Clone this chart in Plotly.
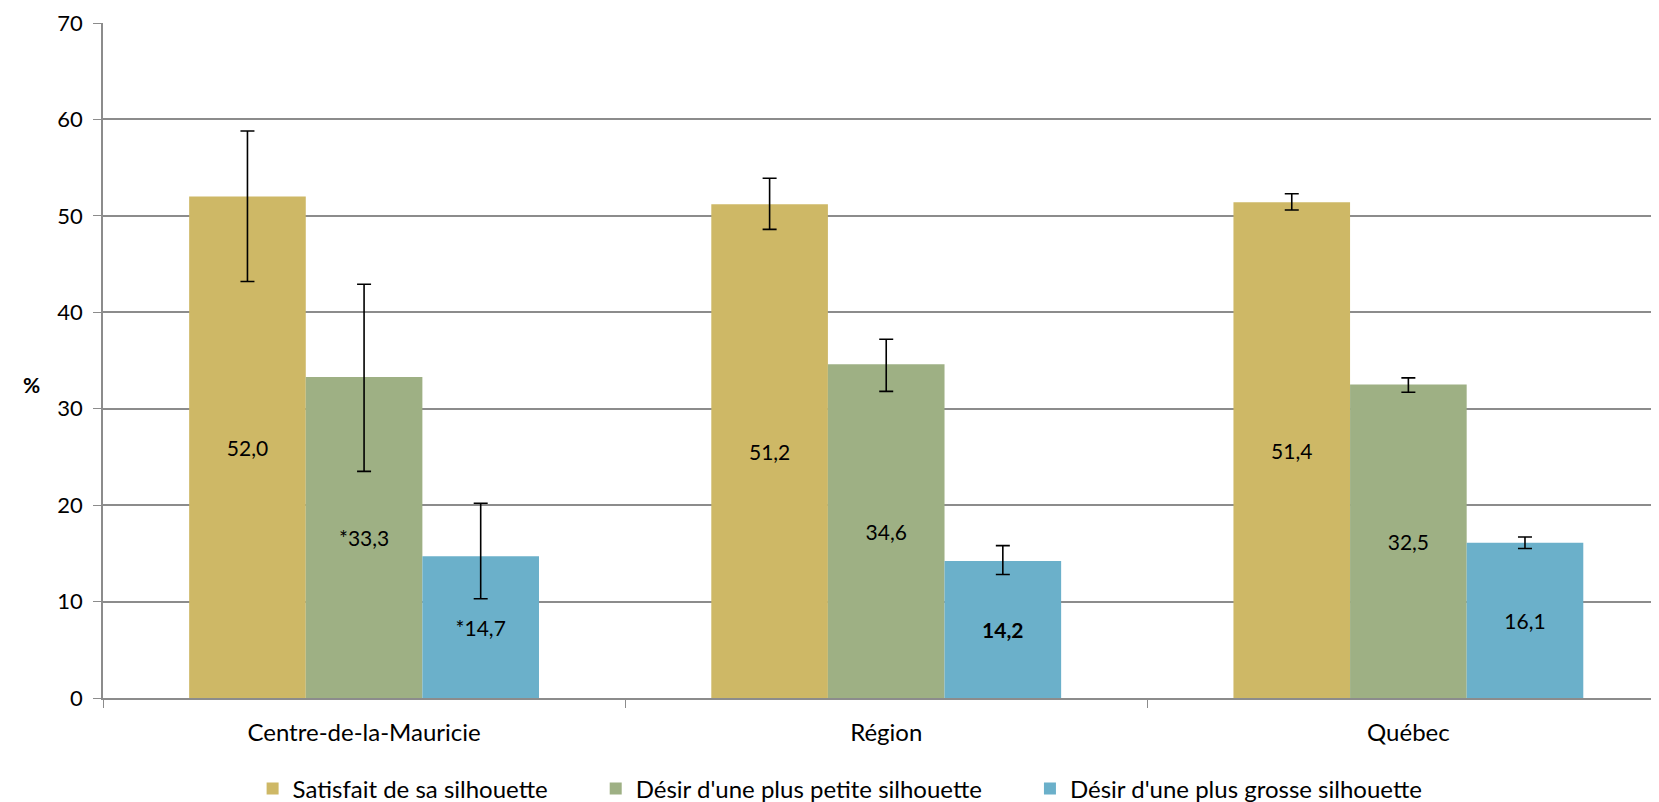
import plotly.graph_objects as go

categories = ["Centre-de-la-Mauricie", "Région", "Québec"]
series_names = ["Satisfait de sa silhouette", "Désir d'une plus petite silhouette", "Désir d'une plus grosse silhouette"]
satisfait = [52.0, 51.2, 51.4]
petite = [33.3, 34.6, 32.5]
grosse = [14.7, 14.2, 16.1]
satisfait_plus = [6.8, 2.7, 0.9]
satisfait_minus = [8.8, 2.6, 0.8]
petite_plus = [9.6, 2.6, 0.7]
petite_minus = [9.8, 2.8, 0.8]
grosse_plus = [5.5, 1.6, 0.6]
grosse_minus = [4.4, 1.4, 0.6]
satisfait_labels = ["52,0", "51,2", "51,4"]
petite_labels = ["*33,3", "34,6", "32,5"]
grosse_labels = ["*14,7", "<b>14,2</b>", "16,1"]
colors = ["#CEB866", "#9EB084", "#6BB0CA"]
y_ticks = [0, 10, 20, 30, 40, 50, 60, 70]

FONT = "Lato, 'Open Sans', sans-serif"
PAD = "\u00a0" * 7

fig = go.Figure()
for i, (name, vals, plus, minus, labels, color) in enumerate([
    (series_names[0], satisfait, satisfait_plus, satisfait_minus, satisfait_labels, colors[0]),
    (series_names[1], petite, petite_plus, petite_minus, petite_labels, colors[1]),
    (series_names[2], grosse, grosse_plus, grosse_minus, grosse_labels, colors[2]),
]):
    fig.add_trace(go.Bar(
        x=categories, y=vals, name=name + (PAD if i < 2 else ""),
        marker=dict(color=color, line=dict(width=0)),
        text=labels, texttemplate="%{text}", textposition="inside",
        insidetextanchor="middle", textangle=0,
        textfont=dict(family=FONT, size=21, color="black"),
        error_y=dict(type="data", symmetric=False, array=plus, arrayminus=minus,
                     color="black", thickness=1.6, width=7),
        hoverinfo="skip",
    ))

fig.update_layout(
    width=1651, height=794,
    barmode="group", bargap=0.33, bargroupgap=0,
    plot_bgcolor="white", paper_bgcolor="white",
    margin=dict(l=95, r=0, t=15, b=104),
    font=dict(family=FONT, size=22, color="black"),
    legend=dict(orientation="h", x=0.504, xref="container", xanchor="center",
                y=13 / 794, yref="container", yanchor="middle",
                font=dict(family=FONT, size=24, color="black"),
                itemwidth=30, traceorder="normal"),
    annotations=[dict(text="<b>%</b>", xref="paper", yref="paper", x=-0.0459, y=0.465,
                      xanchor="center", yanchor="middle", showarrow=False,
                      font=dict(family=FONT, size=21, color="black"))],
)
fig.update_yaxes(range=[0, 70], tickvals=y_ticks, showgrid=True, gridcolor="#8C8C8C", gridwidth=1.5,
                 showline=True, linecolor="#8C8C8C", linewidth=1.5, ticks="outside", ticklen=8,
                 tickcolor="#8C8C8C", zeroline=False, tickfont=dict(size=22), ticklabelstandoff=6)
fig.update_xaxes(range=[-0.5, 2.48], showline=True, linecolor="#8C8C8C", linewidth=1.5,
                 ticks="outside", tickson="boundaries", ticklen=8, tickcolor="#8C8C8C",
                 tickfont=dict(size=24), ticklabelstandoff=12)
fig.write_html("out.html")
